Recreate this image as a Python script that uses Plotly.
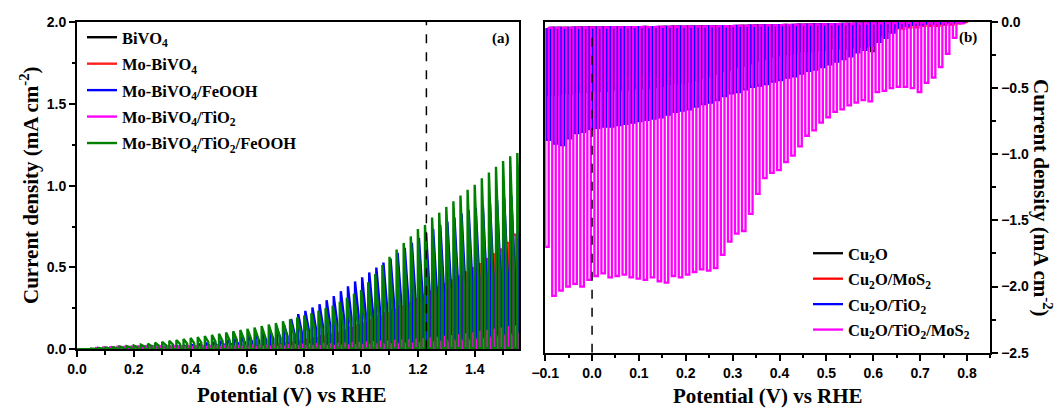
import plotly.graph_objects as go

# ---------------- Panel (a) data: chopped-light LSV, photoanodes ----------------
POT_A = [0.000,0.025,0.050,0.075,0.100,0.125,0.150,0.175,0.200,0.225,
         0.250,0.275,0.300,0.325,0.350,0.375,0.400,0.425,0.450,0.475,
         0.500,0.525,0.550,0.575,0.600,0.625,0.650,0.675,0.700,0.725,
         0.750,0.775,0.800,0.825,0.850,0.875,0.900,0.925,0.950,0.975,
         1.000,1.025,1.050,1.075,1.100,1.125,1.150,1.175,1.200,1.225,
         1.250,1.275,1.300,1.325,1.350,1.375,1.400,1.425,1.450,1.475,
         1.500,1.525,1.550]

DARK_A = [0.000,0.000,0.000,0.000,0.000,0.000,0.000,0.000,0.000,0.000,
          0.000,0.000,0.000,0.000,0.000,0.000,0.000,0.000,0.000,0.000,
          0.000,0.000,0.000,0.000,0.001,0.001,0.001,0.001,0.001,0.001,
          0.001,0.001,0.002,0.002,0.002,0.002,0.002,0.002,0.003,0.003,
          0.003,0.003,0.003,0.004,0.004,0.004,0.004,0.005,0.005,0.005,
          0.005,0.006,0.006,0.006,0.006,0.007,0.007,0.007,0.008,0.008,
          0.008,0.009,0.009]

BIVO4 = [0.000,0.000,0.001,0.001,0.001,0.002,0.002,0.002,0.003,0.003,
         0.003,0.004,0.004,0.004,0.005,0.005,0.005,0.006,0.006,0.006,
         0.007,0.007,0.008,0.008,0.009,0.009,0.010,0.011,0.012,0.013,
         0.014,0.015,0.016,0.018,0.019,0.021,0.022,0.024,0.026,0.028,
         0.030,0.032,0.035,0.037,0.040,0.043,0.046,0.049,0.052,0.056,
         0.060,0.064,0.068,0.072,0.077,0.082,0.087,0.092,0.098,0.104,
         0.110,0.116,0.122]

MO_BIVO4 = [0.000,0.000,0.000,0.001,0.001,0.001,0.002,0.002,0.002,0.003,
            0.003,0.003,0.004,0.004,0.005,0.005,0.006,0.006,0.007,0.008,
            0.009,0.010,0.012,0.014,0.016,0.019,0.022,0.026,0.030,0.036,
            0.042,0.050,0.058,0.068,0.078,0.090,0.100,0.115,0.130,0.145,
            0.160,0.180,0.200,0.220,0.240,0.262,0.285,0.308,0.330,0.352,
            0.375,0.398,0.420,0.445,0.470,0.495,0.520,0.550,0.580,0.610,
            0.650,0.700,0.740]

MO_FEOOH = [0.000,0.000,0.001,0.001,0.002,0.002,0.003,0.004,0.005,0.006,
            0.008,0.010,0.012,0.015,0.018,0.022,0.027,0.032,0.038,0.044,
            0.050,0.057,0.065,0.073,0.082,0.092,0.103,0.115,0.128,0.150,
            0.185,0.215,0.235,0.255,0.275,0.300,0.325,0.355,0.385,0.415,
            0.440,0.470,0.500,0.530,0.555,0.590,0.620,0.650,0.680,0.710,
            0.735,0.760,0.780,0.805,0.830,0.850,0.865,0.880,0.895,0.910,
            0.925,0.940,0.950]
MO_FEOOH_END = [0.000,0.000,0.001,0.001,0.001,0.001,0.002,0.003,0.003,0.004,
                0.005,0.006,0.008,0.010,0.012,0.014,0.017,0.020,0.023,0.027,
                0.030,0.034,0.038,0.042,0.047,0.052,0.057,0.063,0.069,0.078,
                0.092,0.105,0.115,0.125,0.135,0.147,0.160,0.175,0.190,0.205,
                0.220,0.235,0.250,0.265,0.280,0.295,0.310,0.325,0.340,0.355,
                0.370,0.385,0.395,0.405,0.415,0.425,0.432,0.440,0.447,0.455,
                0.462,0.470,0.475]

MO_TIO2 = [0.000,0.004,0.008,0.011,0.013,0.015,0.016,0.017,0.018,0.019,
           0.019,0.020,0.020,0.020,0.020,0.020,0.020,0.020,0.020,0.020,
           0.020,0.021,0.021,0.022,0.022,0.023,0.023,0.024,0.025,0.026,
           0.027,0.028,0.030,0.031,0.033,0.034,0.036,0.038,0.040,0.042,
           0.045,0.047,0.050,0.052,0.055,0.058,0.060,0.063,0.066,0.070,
           0.075,0.080,0.085,0.090,0.096,0.103,0.110,0.117,0.124,0.132,
           0.140,0.145,0.150]
MO_TIO2_END = [0.000,0.003,0.007,0.010,0.012,0.014,0.015,0.016,0.016,0.017,
               0.017,0.017,0.017,0.016,0.016,0.016,0.015,0.015,0.015,0.015,
               0.015,0.015,0.015,0.015,0.015,0.016,0.016,0.016,0.017,0.017,
               0.018,0.018,0.019,0.020,0.021,0.021,0.022,0.023,0.024,0.025,
               0.026,0.027,0.028,0.029,0.030,0.032,0.033,0.034,0.036,0.038,
               0.040,0.042,0.045,0.047,0.050,0.053,0.056,0.060,0.063,0.067,
               0.071,0.074,0.077]

MO_TIO2_FEOOH = [0.000,0.003,0.005,0.008,0.010,0.013,0.016,0.019,0.023,0.028,
                 0.034,0.040,0.046,0.052,0.057,0.063,0.069,0.075,0.081,0.088,
                 0.095,0.102,0.110,0.118,0.125,0.133,0.142,0.151,0.160,0.171,
                 0.183,0.195,0.207,0.221,0.236,0.251,0.266,0.290,0.315,0.340,
                 0.363,0.410,0.460,0.515,0.565,0.610,0.650,0.690,0.735,0.760,
                 0.805,0.835,0.870,0.905,0.940,0.975,1.005,1.045,1.080,1.115,
                 1.150,1.180,1.200]
MO_TIO2_FEOOH_END = [0.000,0.002,0.003,0.005,0.006,0.008,0.010,0.012,0.014,0.017,
                     0.020,0.023,0.026,0.029,0.032,0.035,0.038,0.041,0.044,0.047,
                     0.050,0.054,0.058,0.062,0.066,0.070,0.075,0.080,0.085,0.090,
                     0.096,0.102,0.108,0.114,0.120,0.127,0.135,0.145,0.155,0.165,
                     0.175,0.185,0.195,0.205,0.215,0.230,0.250,0.270,0.290,0.310,
                     0.330,0.345,0.360,0.375,0.390,0.405,0.420,0.440,0.460,0.480,
                     0.500,0.520,0.540]

# ---------------- Panel (b) data: chopped-light LSV, photocathodes ----------------
POT_B = [-0.100,-0.085,-0.070,-0.055,-0.040,-0.025,-0.010,0.005,0.020,0.035,
         0.050,0.065,0.080,0.095,0.110,0.125,0.140,0.155,0.170,0.185,
         0.200,0.215,0.230,0.245,0.260,0.275,0.290,0.305,0.320,0.335,
         0.350,0.365,0.380,0.395,0.410,0.425,0.440,0.455,0.470,0.485,
         0.500,0.515,0.530,0.545,0.560,0.575,0.590,0.605,0.620,0.635,
         0.650,0.665,0.680,0.695,0.710,0.725,0.740,0.755,0.770,0.785]

DARK_B = [-0.045,-0.045,-0.044,-0.044,-0.043,-0.043,-0.042,-0.042,-0.041,-0.041,
          -0.040,-0.040,-0.039,-0.039,-0.038,-0.038,-0.037,-0.037,-0.036,-0.036,
          -0.035,-0.035,-0.034,-0.033,-0.033,-0.032,-0.031,-0.030,-0.029,-0.028,
          -0.027,-0.026,-0.025,-0.024,-0.023,-0.022,-0.021,-0.020,-0.019,-0.018,
          -0.017,-0.016,-0.015,-0.014,-0.013,-0.012,-0.011,-0.010,-0.009,-0.008,
          -0.007,-0.006,-0.005,-0.005,-0.004,-0.004,-0.003,-0.003,-0.002,-0.002]

CU2O = [-0.55,-0.55,-0.54,-0.54,-0.53,-0.53,-0.52,-0.52,-0.52,-0.51,
        -0.51,-0.51,-0.50,-0.50,-0.50,-0.49,-0.48,-0.47,-0.46,-0.46,
        -0.45,-0.44,-0.42,-0.41,-0.39,-0.37,-0.36,-0.34,-0.33,-0.31,
        -0.29,-0.28,-0.26,-0.25,-0.24,-0.23,-0.22,-0.22,-0.21,-0.21,
        -0.20,-0.20,-0.20,-0.19,-0.19,-0.19,-0.22,-0.10,-0.07,-0.05,
        -0.04,-0.03,-0.02,-0.02,-0.01,-0.01,-0.01,-0.00,-0.00,-0.00]

CU2O_MOS2 = [-0.45,-0.46,-0.45,-0.46,-0.45,-0.45,-0.44,-0.45,-0.44,-0.44,
             -0.44,-0.43,-0.44,-0.43,-0.43,-0.43,-0.42,-0.43,-0.42,-0.42,
             -0.42,-0.42,-0.41,-0.42,-0.41,-0.41,-0.42,-0.44,-0.43,-0.40,
             -0.38,-0.34,-0.31,-0.28,-0.25,-0.22,-0.20,-0.18,-0.16,-0.14,
             -0.13,-0.12,-0.11,-0.10,-0.09,-0.08,-0.07,-0.06,-0.06,-0.05,
             -0.05,-0.04,-0.04,-0.03,-0.03,-0.03,-0.02,-0.02,-0.01,-0.00]

CU2O_TIO2 = [-0.89,-0.92,-0.93,-0.88,-0.84,-0.83,-0.81,-0.80,-0.79,-0.79,
             -0.78,-0.77,-0.76,-0.75,-0.74,-0.73,-0.72,-0.70,-0.68,-0.67,
             -0.66,-0.64,-0.62,-0.61,-0.59,-0.56,-0.54,-0.53,-0.51,-0.49,
             -0.48,-0.47,-0.45,-0.44,-0.42,-0.41,-0.39,-0.37,-0.36,-0.34,
             -0.32,-0.30,-0.28,-0.26,-0.23,-0.21,-0.18,-0.15,-0.12,-0.08,
             -0.04,-0.03,-0.02,-0.02,-0.01,-0.01,-0.01,-0.00,-0.00,-0.00]

CU2O_TIO2_MOS2 = [-1.70,-2.07,-2.03,-2.00,-1.98,-2.00,-1.95,-1.92,-1.90,-1.93,
                  -1.92,-1.91,-1.93,-1.94,-1.95,-1.93,-1.96,-1.97,-1.92,-1.93,
                  -1.91,-1.89,-1.87,-1.88,-1.86,-1.76,-1.66,-1.60,-1.58,-1.45,
                  -1.30,-1.18,-1.14,-1.12,-1.06,-1.01,-0.94,-0.86,-0.82,-0.76,
                  -0.72,-0.68,-0.66,-0.63,-0.61,-0.59,-0.60,-0.53,-0.52,-0.50,
                  -0.49,-0.49,-0.50,-0.53,-0.46,-0.42,-0.34,-0.24,-0.12,-0.01]

SERIES_A = [
    ("BiVO<sub>4</sub>", "#000000", BIVO4, None),
    ("Mo-BiVO<sub>4</sub>", "#ff2020", MO_BIVO4, None),
    ("Mo-BiVO<sub>4</sub>/FeOOH", "#0000ff", MO_FEOOH, MO_FEOOH_END),
    ("Mo-BiVO<sub>4</sub>/TiO<sub>2</sub>", "#ff00ff", MO_TIO2, MO_TIO2_END),
    ("Mo-BiVO<sub>4</sub>/TiO<sub>2</sub>/FeOOH", "#008000", MO_TIO2_FEOOH, MO_TIO2_FEOOH_END),
]
PHASE_A = [0.55, 0.30, 0.15, 0.70, 0.0]

SERIES_B = [
    ("Cu<sub>2</sub>O", "#000000", CU2O),
    ("Cu<sub>2</sub>O/MoS<sub>2</sub>", "#ff0000", CU2O_MOS2),
    ("Cu<sub>2</sub>O/TiO<sub>2</sub>", "#0000ff", CU2O_TIO2),
    ("Cu<sub>2</sub>O/TiO<sub>2</sub>/MoS<sub>2</sub>", "#ff00ff", CU2O_TIO2_MOS2),
]
PHASE_B = [0.35, 0.6, 0.2, 0.0]


def chop(pot, dark, light, end=None, duty=0.5, phase=0.0):
    """Chopped-light trace: dark level, jump to light level, back to dark."""
    if end is None:
        end = light
    xs, ys = [], []
    n = min(len(pot), len(dark), len(light), len(end))
    for i in range(n):
        step = (pot[i + 1] - pot[i]) if i + 1 < len(pot) else (pot[i] - pot[i - 1])
        x0 = pot[i] + phase * step
        x1 = x0 + duty * step
        xs += [x0, x0, x1, x1]
        ys += [dark[i], light[i], end[i], dark[i]]
    return xs, ys


fig = go.Figure()

for k, (name, color, light, end) in enumerate(SERIES_A):
    xs, ys = chop(POT_A, DARK_A, light, end, phase=PHASE_A[k])
    fig.add_trace(go.Scatter(x=xs, y=ys, mode="lines", name=name,
                             line=dict(color=color, width=2.4),
                             xaxis="x", yaxis="y", legend="legend",
                             legendgroup="a%d" % k))

for k, (name, color, light) in enumerate(SERIES_B):
    xs, ys = chop(POT_B, DARK_B, light, None, phase=PHASE_B[k])
    fig.add_trace(go.Scatter(x=xs, y=ys, mode="lines", name=name,
                             line=dict(color=color, width=2.3),
                             xaxis="x2", yaxis="y2", legend="legend2",
                             legendgroup="b%d" % k))

W, H = 1059, 408
tickfont = dict(family="Liberation Sans", size=14, color="black", weight="bold")
serif = "Liberation Serif"

common = dict(showline=True, linewidth=2, linecolor="black", mirror=True,
              showgrid=False, zeroline=False, ticks="outside", ticklen=6,
              tickwidth=1.5, tickcolor="black", tickfont=tickfont,
              tickformat=".1f", automargin=False)

fig.update_layout(
    width=W, height=H,
    margin=dict(l=0, r=0, t=0, b=0, autoexpand=False),
    paper_bgcolor="white", plot_bgcolor="white",
    xaxis=dict(domain=[77 / W, 519 / W], range=[0, 1.556], anchor="y",
               tick0=0, dtick=0.2,
               minor=dict(dtick=0.1, ticks="outside", ticklen=3.5, tickwidth=1.5,
                          tickcolor="black"),
               **common),
    yaxis=dict(domain=[1 - 349.3 / H, 1 - 22 / H], range=[0, 2.0], anchor="x",
               tick0=0, dtick=0.5,
               minor=dict(dtick=0.25, ticks="outside", ticklen=3.5, tickwidth=1.5,
                          tickcolor="black"),
               **common),
    xaxis2=dict(domain=[545.2 / W, 990.4 / W], range=[-0.1, 0.85], anchor="y2",
                tick0=-0.1, dtick=0.1,
                minor=dict(dtick=0.05, ticks="outside", ticklen=3.5, tickwidth=1.5,
                           tickcolor="black"),
                **common),
    yaxis2=dict(domain=[1 - 352.7 / H, 1 - 22 / H], range=[-2.5, 0], anchor="x2",
                side="right", tick0=0, dtick=0.5,
                minor=dict(dtick=0.25, ticks="outside", ticklen=3.5, tickwidth=1.5,
                           tickcolor="black"),
                **common),
    legend=dict(x=82 / W, y=1 - 20 / H, xanchor="left", yanchor="top",
                bgcolor="rgba(0,0,0,0)", tracegroupgap=2,
                font=dict(family=serif, size=16.5, color="black", weight="bold")),
    legend2=dict(x=808 / W, y=1 - 236 / H, xanchor="left", yanchor="top",
                 bgcolor="rgba(0,0,0,0)", tracegroupgap=1,
                 font=dict(family=serif, size=16.5, color="black", weight="bold")),
    showlegend=True,
)

fig.add_shape(type="line", xref="x", yref="y", x0=1.23, x1=1.23, y0=0, y1=2.0,
              line=dict(color="black", width=1.5, dash="dash"))
fig.add_shape(type="line", xref="x2", yref="y2", x0=0.0, x1=0.0, y0=-2.5, y1=-0.05,
              line=dict(color="black", width=1.5, dash="dash"))

title_font = dict(family=serif, size=21, color="black", weight="bold")
ann = dict(xref="paper", yref="paper", showarrow=False, xanchor="center", yanchor="middle")
fig.add_annotation(text="Current density (mA cm<sup>-2</sup>)", x=30 / W, y=1 - 185 / H,
                   textangle=-90, font=title_font, **ann)
fig.add_annotation(text="Current density (mA cm<sup>-2</sup>)", x=1043 / W, y=1 - 198 / H,
                   textangle=90, font=title_font, **ann)
fig.add_annotation(text="Potential (V) vs RHE", x=292 / W, y=1 - 395 / H,
                   font=title_font, **ann)
fig.add_annotation(text="Potential (V) vs RHE", x=768 / W, y=1 - 396 / H,
                   font=title_font, **ann)
label_font = dict(family=serif, size=15, color="black", weight="bold")
fig.add_annotation(text="(a)", x=501 / W, y=1 - 38 / H, font=label_font, **ann)
fig.add_annotation(text="(b)", x=968 / W, y=1 - 37 / H, font=label_font, **ann)

fig.write_html("out.html",
               config={"displayModeBar": False},
               post_script="document.body.style.margin='0';"
                           "document.body.style.overflow='hidden';")
